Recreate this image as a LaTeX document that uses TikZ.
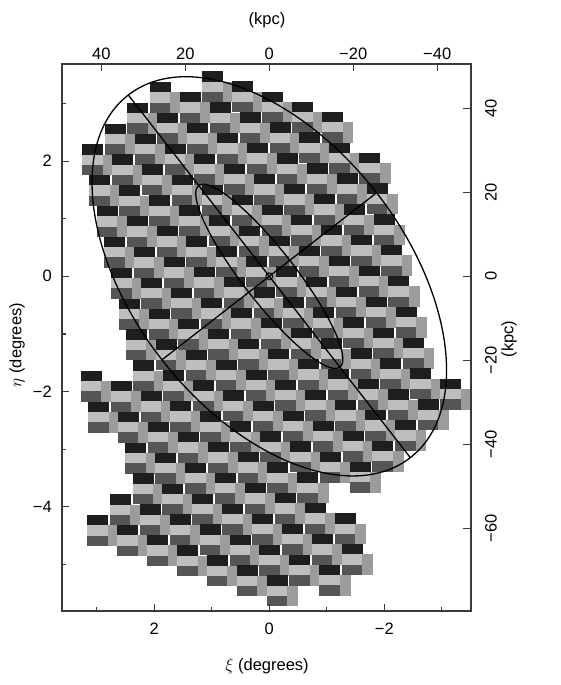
\documentclass[tikz,border=0pt]{standalone}
\usepackage{fontspec}
\setmainfont{Liberation Sans}
\usetikzlibrary{calc}
\definecolor{ccdblack}{HTML}{1E1E1E}
\definecolor{ccddark}{HTML}{555555}
\definecolor{ccdlight}{HTML}{BEBEBE}
\definecolor{ccdmid}{HTML}{9C9C9C}
\definecolor{framegrey}{HTML}{3A3A3A}
\tikzset{
  axislbl/.style={font=\fontsize{16.5}{18}\selectfont, text=black, inner sep=0pt},
  majtick/.style={draw=framegrey, line width=1.2pt},
  curve/.style={draw=black, line width=1.3pt},
}
% one WFC pointing: three stacked CCDs plus the rotated one
\newcommand{\wfcfield}[2]{%
  \fill[ccdblack] (#1,#2) rectangle ++(21,10.5);
  \fill[ccdlight] (#1,#2+10.3) rectangle ++(21,10.5);
  \fill[ccddark] (#1,#2+20.6) rectangle ++(21,10.4);
  \fill[ccdmid] (#1+20.5,#2+10.3) rectangle ++(10.8,20.7);
}

\begin{document}
\begin{tikzpicture}[x=1pt,y=-1pt]
  \useasboundingbox (0,0) rectangle (560,685);

  % survey fields, row by row
  \foreach \n/\xa/\xb in {-38/191/210, -37/140/262, -36/118/290, -35/108/322,
      -34/108/334, -33/98/334, -32/98/334, -31/76/362, -30/76/374, -29/76/374,
      -28/76/372, -27/86/384, -26/86/384, -25/95/384, -24/95/392, -23/95/392,
      -22/100/397, -21/105/397, -20/105/404, -19/105/404, -18/115/404,
      -17/115/417, -16/115/417, -15/123/417, -14/123/424, -13/123/424,
      -12/135/424, -11/135/430, -10/113/430, -9/60/442, -8/60/442, -7/60/420,
      -6/70/420, -5/70/420, -4/70/399, -3/100/399, -2/110/399, -1/110/377,
      0/110/357, 1/120/357, 2/120/304, 3/100/334, 4/100/334, 5/77/345,
      6/77/345, 7/77/355, 8/108/355, 9/138/355, 10/170/334, 11/202/334}{
    \pgfmathsetmacro\xo{185+29.9*\n}
    \pgfmathtruncatemacro\mlo{ceil((\xa-\xo)/82.4)}
    \pgfmathtruncatemacro\mhi{floor((\xb-\xo)/82.4)}
    \ifnum\mhi<\mlo\else
      \foreach \m in {\mlo,...,\mhi}{
        \pgfmathsetmacro\px{\xo+82.4*\m}
        \pgfmathsetmacro\py{462.8+10.08*\n-0.6*\m}
        \wfcfield{\px}{\py}
      }
    \fi
  }

  % ellipses and axes of the disc
  \coordinate (ctr) at (269.3,276.3);
  \coordinate (majA) at (128.3,95.0);
  \coordinate (majB) at (410.3,457.6);
  \coordinate (minA) at (376.6,192.8);
  \coordinate (minB) at (162.0,359.8);
  \draw[curve, rotate around={127.9:(ctr)}] (ctr) ellipse [x radius=229.7, y radius=136];
  \draw[curve, rotate around={127.9:(ctr)}] (ctr) ellipse [x radius=115, y radius=26];
  \draw[curve] (majA) -- (majB);
  \draw[curve] (minA) -- (minB);
  \draw[curve, line width=1pt] (ctr) circle (3.5);

  % frame and ticks
  \draw[framegrey, line width=1.5pt] (62,64) rectangle (471,611);
  \foreach \t in {154.3,269.3,384.3} \draw[majtick] (\t,611) -- ++(0,-7);
  \foreach \t in {96.8,211.8,326.8,441.8} \draw[majtick] (\t,611) -- ++(0,-4);
  \foreach \t in {101.4,185.4,269.3,353.2,437.2} \draw[majtick] (\t,64) -- ++(0,7);
  \foreach \t in {161.1,276.3,391.5,506.7} \draw[majtick] (62,\t) -- ++(7,0);
  \foreach \t in {103.5,218.7,333.9,449.1,564.3} \draw[majtick] (62,\t) -- ++(4,0);
  \foreach \t in {108.1,192.2,276.3,360.4,444.5,528.5} \draw[majtick] (471,\t) -- ++(-8,0);

  % tick labels
  \foreach \t/\v [count=\i] in {154.3/2, 269.3/0, 384.3/−2}
    \node[axislbl] (xlab\i) at (\t,629) {\v};
  \foreach \t/\v [count=\i] in {101.4/40, 185.4/20, 269.3/0, 353.2/−20, 437.2/−40}
    \node[axislbl] (klab\i) at (\t,54) {\v};
  \foreach \t/\v [count=\i] in {161.1/2, 276.3/0, 391.5/−2, 506.7/−4}
    \node[axislbl, anchor=east] (ylab\i) at (52,\t) {\v};
  \foreach \t/\v [count=\i] in {108.1/40, 192.2/20, 276.3/0, 360.4/−20, 444.5/−40, 528.5/−60}
    \node[axislbl, rotate=90] (rlab\i) at (491,\t) {\v};

  % axis titles
  \node[axislbl] (xtitle) at (267,666) {$\xi$ (degrees)};
  \node[axislbl] (ktitle) at (267,20) {(kpc)};
  \node[axislbl, rotate=90] (ytitle) at (17,345) {$\eta$ (degrees)};
  \node[axislbl, rotate=90] (rtitle) at (509,339) {(kpc)};
\end{tikzpicture}
\end{document}
